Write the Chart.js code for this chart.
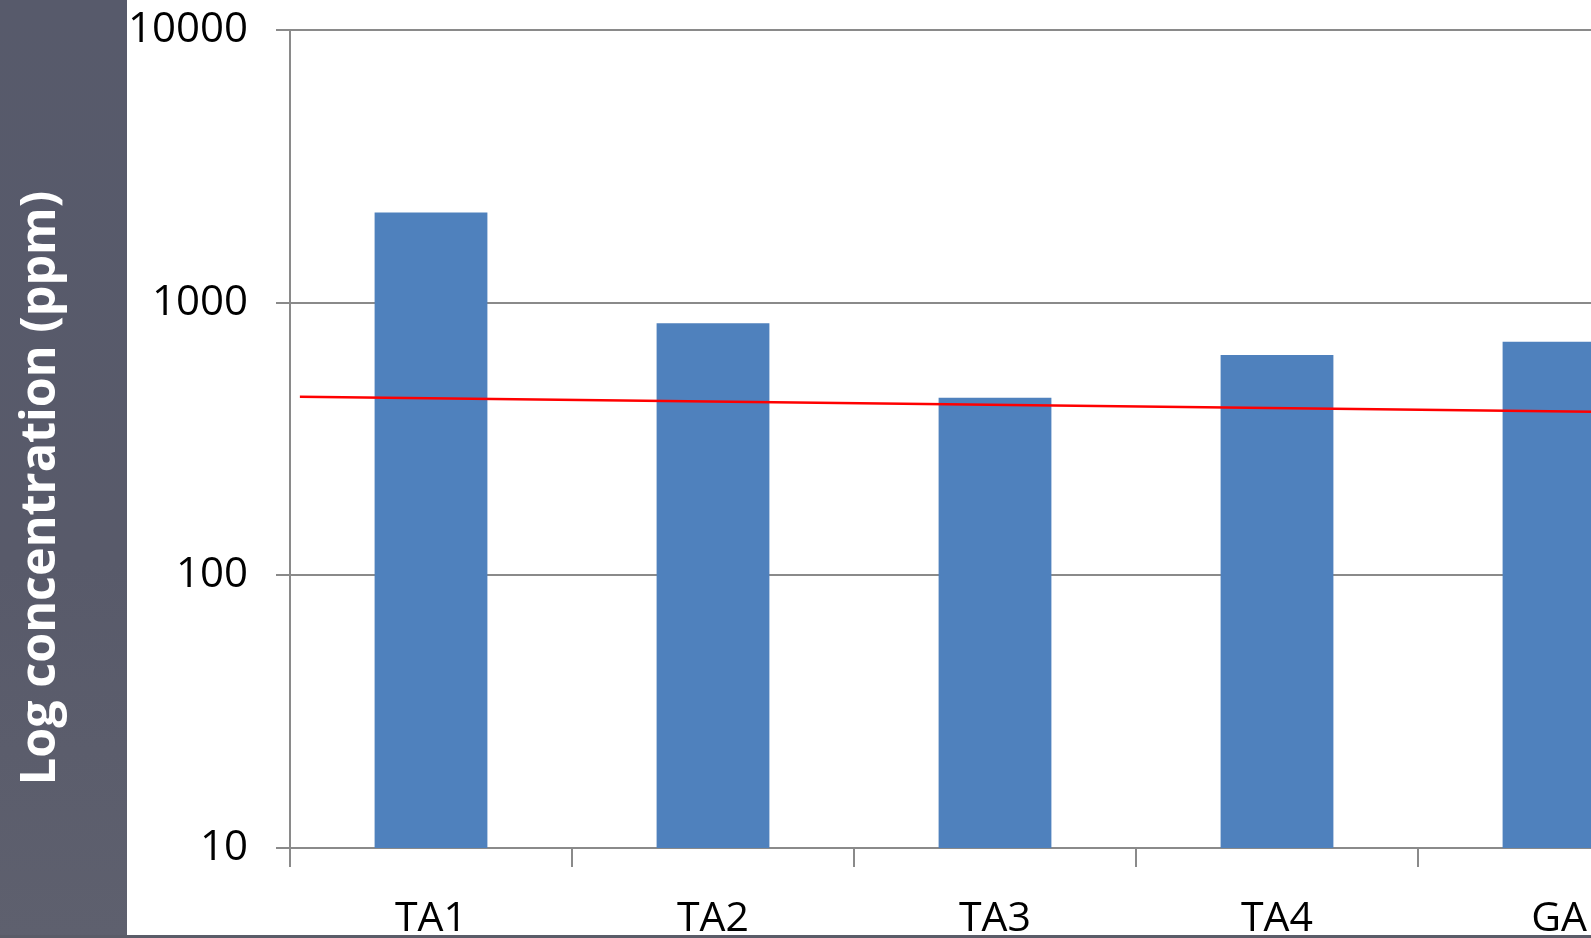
<!DOCTYPE html>
<html>
<head>
<meta charset="utf-8">
<script src="https://cdn.jsdelivr.net/npm/chart.js@4/dist/chart.umd.min.js"></script>
<style>
  html, body { margin: 0; padding: 0; width: 1591px; height: 938px; overflow: hidden; background: #ffffff; }
  #wrap { position: absolute; left: 0; top: 0; width: 1720px; height: 938px; }
  #panel { position: absolute; left: 0; top: 0; width: 127px; height: 938px;
           background: linear-gradient(180deg, #575a6b 0%, #585a6a 60%, #5e606e 100%); }
  #ytitle { position: absolute; left: -314px; top: 464px; width: 700px; height: 48px; line-height: 48px;
            text-align: center; color: #ffffff; font-family: 'Open Sans', 'DejaVu Sans', sans-serif;
            font-weight: 700; font-size: 48.5px; transform: rotate(-90deg); transform-origin: 50% 50%; white-space: nowrap; }
  #bottomline { position: absolute; left: 0; top: 935px; width: 1591px; height: 3px; background: #5a5c68; }
</style>
</head>
<body>
<div id="wrap"><canvas id="c" width="1720" height="938" style="width:1720px;height:938px;"></canvas></div>
<div id="panel"></div>
<div id="ytitle">Log concentration (ppm)</div>
<div id="bottomline"></div>
<script>
// ---- data ----
const categories = ['TA1', 'TA2', 'TA3', 'TA4', 'GA'];
const concentrations = [2140, 840, 448, 643, 719];
const yTickValues = [10, 100, 1000, 10000];
const trendX = [0.035, 5];
const trendY = [452, 394];

const gridColor = '#8a8a8a';
const labelFont = "'Open Sans', 'DejaVu Sans Condensed', sans-serif";

new Chart(document.getElementById('c'), {
  type: 'bar',
  data: {
    labels: categories,
    datasets: [
      {
        type: 'bar',
        data: concentrations,
        backgroundColor: '#4f81bd',
        borderWidth: 0,
        barPercentage: 0.4,
        categoryPercentage: 1.0,
        grouped: false,
        xAxisID: 'x',
        yAxisID: 'y',
        order: 2
      },
      {
        type: 'line',
        data: trendX.map((x, i) => ({ x: x, y: trendY[i] })),
        borderColor: '#ff0000',
        borderWidth: 2.5,
        pointRadius: 0,
        fill: false,
        tension: 0,
        xAxisID: 'x2',
        yAxisID: 'y',
        order: 1
      }
    ]
  },
  options: {
    responsive: false,
    devicePixelRatio: 1,
    animation: false,
    layout: { padding: { top: 0, right: 20, left: 0, bottom: 0 } },
    plugins: { legend: { display: false }, tooltip: { enabled: false } },
    scales: {
      x: {
        type: 'category',
        offset: true,
        grid: { display: true, offset: true, drawOnChartArea: false, drawTicks: true, tickLength: 19, color: gridColor, lineWidth: 2 },
        border: { display: true, color: gridColor, width: 2 },
        ticks: { color: '#000000', font: { family: labelFont, size: 41 }, padding: 28, maxRotation: 0, autoSkip: false },
        afterFit: (s) => { s.height = 90; }
      },
      x2: {
        type: 'linear',
        display: false,
        offset: false,
        grace: 0,
        min: 0,
        max: 5
      },
      y: {
        type: 'logarithmic',
        min: 10,
        max: 10000,
        grid: { display: true, drawTicks: true, tickLength: 14, color: gridColor, lineWidth: 2 },
        border: { display: true, color: gridColor, width: 2 },
        afterBuildTicks: (s) => { s.ticks = yTickValues.map(v => ({ value: v })); },
        ticks: { color: '#000000', font: { family: labelFont, size: 42, lineHeight: '4px' }, padding: 28, callback: (v) => String(v) },
        afterFit: (s) => { s.width = 290; }
      }
    }
  }
});
</script>
</body>
</html>
